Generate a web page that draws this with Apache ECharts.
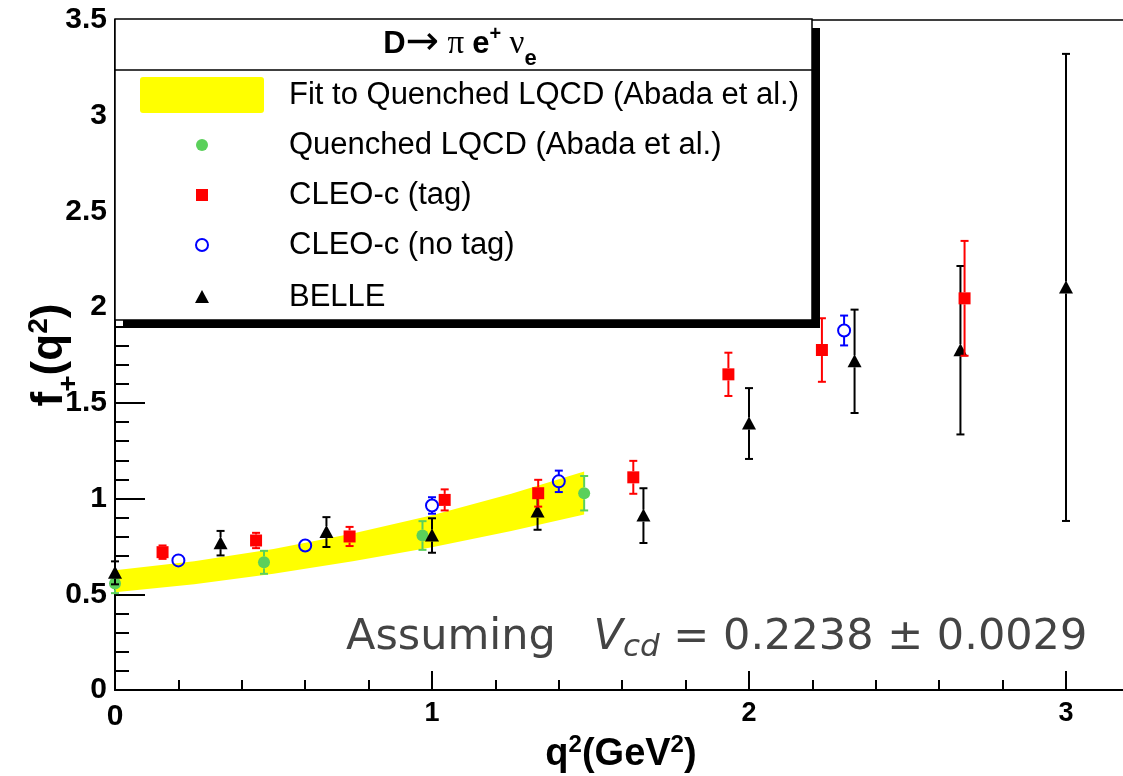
<!DOCTYPE html>
<html>
<head>
<meta charset="utf-8">
<script src="https://cdn.jsdelivr.net/npm/echarts@6/dist/echarts.min.js"></script>
<style>
html,body{margin:0;padding:0;background:#fff;}
#chart{width:1123px;height:776px;}
</style>
</head>
<body>
<div id="chart"></div>
<script>
// ---- data ----
const bandQ2    = [0, 0.25, 0.5, 0.75, 1.0, 1.25, 1.48];
const bandUpper = [0.625, 0.673, 0.737, 0.817, 0.913, 1.025, 1.142];
const bandLower = [0.510, 0.553, 0.607, 0.672, 0.746, 0.830, 0.917];

const lqcdQ2  = [0, 0.47, 0.97, 1.48];
const lqcdF   = [0.556, 0.667, 0.807, 1.028];
const lqcdErr = [0.05, 0.06, 0.075, 0.09];

const cleoTagQ2  = [0.15, 0.445, 0.74, 1.04, 1.335, 1.635, 1.935, 2.23, 2.68];
const cleoTagF   = [0.72, 0.781, 0.802, 0.993, 1.028, 1.111, 1.649, 1.776, 2.046];
const cleoTagErr = [0.035, 0.04, 0.05, 0.055, 0.07, 0.086, 0.113, 0.166, 0.30];

const cleoNoTagQ2  = [0.2, 0.6, 1.0, 1.4, 2.3];
const cleoNoTagF   = [0.677, 0.755, 0.964, 1.09, 1.878];
const cleoNoTagErr = [0.012, 0.02, 0.043, 0.056, 0.078];

const belleQ2  = [0, 0.333, 0.667, 1.0, 1.333, 1.667, 2.0, 2.333, 2.667, 3.0];
const belleF   = [0.612, 0.767, 0.825, 0.807, 0.932, 0.911, 1.392, 1.717, 1.775, 2.103];
const belleErr = [0.06, 0.064, 0.078, 0.09, 0.095, 0.143, 0.185, 0.27, 0.44, 1.22];

const xTicks = [0, 1, 2, 3];
const yTicks = [0, 0.5, 1, 1.5, 2, 2.5, 3, 3.5];

const legendLabels = [
  'Fit to Quenched LQCD (Abada et al.)',
  'Quenched LQCD (Abada et al.)',
  'CLEO-c (tag)',
  'CLEO-c (no tag)',
  'BELLE'
];

const GREEN = '#5bd05b', RED = '#ff0000', BLUE = '#0000ff', BLACK = '#000000', YELLOW = '#ffff00';

function markerShape(shape, cx, cy, color) {
  if (shape === 'circle') return {type:'circle', shape:{cx:cx, cy:cy, r:6}, style:{fill:color}};
  if (shape === 'ocircle') return {type:'circle', shape:{cx:cx, cy:cy, r:6}, style:{fill:'none', stroke:color, lineWidth:2}};
  if (shape === 'square') return {type:'rect', shape:{x:cx-6, y:cy-6, width:12, height:12}, style:{fill:color}};
  return {type:'polygon', shape:{points:[[cx, cy-7],[cx-7, cy+6],[cx+7, cy+6]]}, style:{fill:color}};
}

function errSeries(name, xs, ys, es, color, shape, z) {
  return {
    type: 'custom', name: name, z: z, clip: false,
    data: xs.map((x, i) => [x, ys[i], es[i]]),
    renderItem: function (params, api) {
      const x = api.value(0), y = api.value(1), e = api.value(2);
      const c = api.coord([x, y]);
      const t = api.coord([x, y + e]);
      const b = api.coord([x, y - e]);
      const r = 6;
      const ls = {stroke: color, lineWidth: 2};
      const ch = [];
      if (c[1] - t[1] > r) {
        ch.push({type:'line', shape:{x1:c[0], y1:c[1]-r, x2:t[0], y2:t[1]}, style:ls});
        ch.push({type:'line', shape:{x1:t[0]-4, y1:t[1], x2:t[0]+4, y2:t[1]}, style:ls});
      }
      if (b[1] - c[1] > r) {
        ch.push({type:'line', shape:{x1:c[0], y1:c[1]+r, x2:b[0], y2:b[1]}, style:ls});
        ch.push({type:'line', shape:{x1:b[0]-4, y1:b[1], x2:b[0]+4, y2:b[1]}, style:ls});
      }
      ch.push(markerShape(shape, c[0], c[1], color));
      return {type:'group', children: ch};
    }
  };
}

const chart = echarts.init(document.getElementById('chart'));

const legendY = [95, 145, 195, 245, 297];
const legendGraphics = [
  {type:'rect', shape:{x:123, y:28, width:697, height:300}, style:{fill:'#000'}, z:100},
  {type:'rect', shape:{x:115, y:19, width:697, height:301}, style:{fill:'#fff', stroke:'#000', lineWidth:1.5}, z:101},
  {type:'line', shape:{x1:115, y1:70, x2:812, y2:70}, style:{stroke:'#000', lineWidth:1.5}, z:102},
  {type:'text', x:460, y:44, z:102, style:{
    text:'{b|D}{arr|→}{g| π }{b|e}{sup|+}{g| ν}{sub|e}',
    align:'center', verticalAlign:'middle',
    rich:{
      b:{fontFamily:'Liberation Sans', fontWeight:'bold', fontSize:31, lineHeight:40, fill:'#000'},
      arr:{fontFamily:'DejaVu Sans', fontSize:40, lineHeight:40, fill:'#000'},
      g:{fontFamily:'Liberation Serif', fontSize:33, lineHeight:40, fill:'#000'},
      sup:{fontFamily:'Liberation Sans', fontWeight:'bold', fontSize:20, lineHeight:20, verticalAlign:'top', fill:'#000'},
      sub:{fontFamily:'Liberation Sans', fontWeight:'bold', fontSize:22, lineHeight:22, verticalAlign:'bottom', padding:[0,0,-6,0], fill:'#000'}
    }
  }},
  {type:'rect', shape:{x:140, y:77, width:124, height:36, r:3}, style:{fill:YELLOW}, z:102},
  Object.assign(markerShape('circle', 202, 145, GREEN), {z:102}),
  Object.assign(markerShape('square', 202, 195, RED), {z:102}),
  Object.assign(markerShape('ocircle', 202, 245, BLUE), {z:102}),
  Object.assign(markerShape('triangle', 202, 297, BLACK), {z:102})
];
legendLabels.forEach((t, i) => {
  legendGraphics.push({type:'text', x:289, y:legendY[i], z:102, style:{
    text:t, fontFamily:'Liberation Sans', fontSize:31, fill:'#000', verticalAlign:'middle'
  }});
});
// annotation
legendGraphics.push({type:'text', x:346, y:638, z:50, style:{
  text:'{a|Assuming }{v|V}{s|cd}{a| = 0.2238 ± 0.0029}',
  verticalAlign:'middle',
  rich:{
    a:{fontFamily:'DejaVu Sans', fontSize:43, lineHeight:50, fill:'#444'},
    v:{fontFamily:'DejaVu Sans', fontStyle:'oblique', fontSize:43, lineHeight:50, padding:[0,0,0,24], fill:'#444'},
    s:{fontFamily:'DejaVu Sans', fontStyle:'oblique', fontSize:31, lineHeight:31, verticalAlign:'bottom', fill:'#444'}
  }
}});
// x-axis title
legendGraphics.push({type:'text', x:621, y:755, z:50, style:{
  text:'{b|q}{sup|2}{b|(GeV}{sup|2}{b|)}',
  align:'center', verticalAlign:'middle',
  rich:{
    b:{fontFamily:'Liberation Sans', fontWeight:'bold', fontSize:38, lineHeight:44, fill:'#000'},
    sup:{fontFamily:'Liberation Sans', fontWeight:'bold', fontSize:24, lineHeight:24, verticalAlign:'top', fill:'#000'}
  }
}});

const option = {
  animation: false,
  backgroundColor: '#fff',
  grid: {left:115, right:-260, top:20, bottom:86, outerBoundsMode:'none', containLabel:false,
         show:true, borderColor:'#000', borderWidth:1.5, backgroundColor:'transparent'},
  xAxis: {
    type:'value', min:0, max:4, interval:1,
    axisLine:{onZero:false, lineStyle:{color:'#000', width:2}},
    axisTick:{inside:true, length:19, lineStyle:{color:'#000', width:2}},
    minorTick:{show:true, splitNumber:5, length:10, lineStyle:{color:'#000', width:2}},
    splitLine:{show:false},
    axisLabel:{
      color:'#000', fontFamily:'Liberation Sans', fontWeight:'bold', fontSize:27, margin:10,
      formatter: v => xTicks.indexOf(v) >= 0 ? (v === 0 ? '{big|0}' : String(v)) : '',
      rich:{big:{fontFamily:'Liberation Sans', fontWeight:'bold', fontSize:30, padding:[2,0,0,0]}}
    }
  },
  yAxis: {
    type:'value', min:0, max:3.5, interval:0.5,
    axisLine:{onZero:false, lineStyle:{color:'#000', width:2}},
    axisTick:{inside:true, length:30, lineStyle:{color:'#000', width:2}},
    minorTick:{show:true, splitNumber:5, length:14, lineStyle:{color:'#000', width:2}},
    splitLine:{show:false},
    axisLabel:{
      color:'#000', fontFamily:'Liberation Sans', fontWeight:'bold', fontSize:30, margin:8,
      padding:[6,0,0,0],
      formatter: v => yTicks.indexOf(v) >= 0 ? String(v) : ''
    },
    name:'{b|f}{sub|+}{b|(q}{sup|2}{b|)}',
    nameLocation:'middle', nameRotate:90, nameGap:40, nameMoveOverlap:false,
    nameTextStyle:{rich:{
      b:{fontFamily:'Liberation Sans', fontWeight:'bold', fontSize:44, lineHeight:50, color:'#000'},
      sup:{fontFamily:'Liberation Sans', fontWeight:'bold', fontSize:28, lineHeight:28, verticalAlign:'top', color:'#000'},
      sub:{fontFamily:'Liberation Sans', fontWeight:'bold', fontSize:28, lineHeight:28, verticalAlign:'bottom', padding:[0,0,-8,0], color:'#000'}
    }}
  },
  graphic: legendGraphics,
  series: [
    {
      type:'custom', name:'Fit to Quenched LQCD (Abada et al.)', z:1,
      data: bandQ2.map((q, i) => [q, bandLower[i], bandUpper[i]]),
      renderItem: function (params, api) {
        if (params.dataIndex !== 0) return null;
        const pts = [];
        for (let i = 0; i < bandQ2.length; i++) pts.push(api.coord([bandQ2[i], bandUpper[i]]));
        for (let i = bandQ2.length - 1; i >= 0; i--) pts.push(api.coord([bandQ2[i], bandLower[i]]));
        return {type:'polygon', shape:{points:pts}, style:{fill:YELLOW}};
      }
    },
    errSeries('Quenched LQCD (Abada et al.)', lqcdQ2, lqcdF, lqcdErr, GREEN, 'circle', 2),
    errSeries('BELLE', belleQ2, belleF, belleErr, BLACK, 'triangle', 3),
    errSeries('CLEO-c (tag)', cleoTagQ2, cleoTagF, cleoTagErr, RED, 'square', 4),
    errSeries('CLEO-c (no tag)', cleoNoTagQ2, cleoNoTagF, cleoNoTagErr, BLUE, 'ocircle', 5)
  ]
};
chart.setOption(option);
</script>
</body>
</html>
